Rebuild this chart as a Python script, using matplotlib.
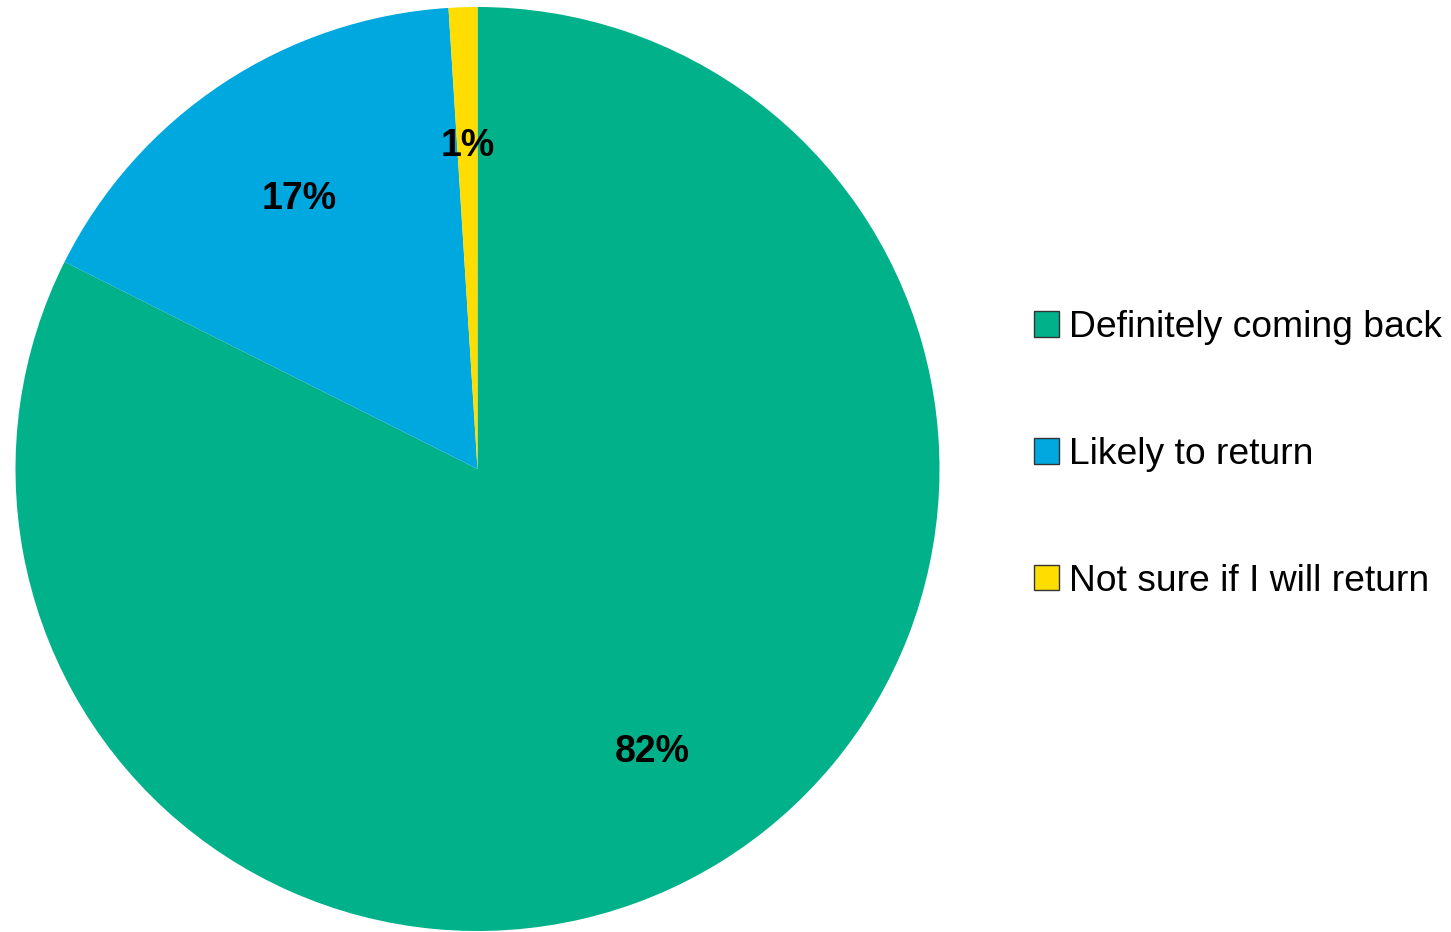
import matplotlib.pyplot as plt
from matplotlib.patches import Patch

plt.rcParams['font.family'] = ['Liberation Sans', 'DejaVu Sans']

labels = ['Definitely coming back', 'Likely to return', 'Not sure if I will return']
shares = [82.4, 16.6, 1.0]
colors = ['#00B18A', '#00A8E0', '#FFDD00']

W, H = 1451, 932
fig = plt.figure(figsize=(W / 100, H / 100), dpi=100)

# pie centre ~(477, 469) px, radius ~462 px
cx, cy, r = 477.5, 469, 462
ax = fig.add_axes([(cx - r) / W, (H - cy - r) / H, 2 * r / W, 2 * r / H])
wedges, texts, autotexts = ax.pie(
    shares, colors=colors, startangle=90, counterclock=False,
    autopct='%.0f%%', pctdistance=0.70, radius=1,
    wedgeprops=dict(linewidth=0),
    textprops=dict(fontsize=27, fontweight='bold', color='black'))
# the big label sits a little further out
x, y = autotexts[0].get_position()
autotexts[0].set_position((x * 0.72 / 0.70, y * 0.72 / 0.70))
ax.set_xlim(-1, 1)
ax.set_ylim(-1, 1)
ax.set_aspect('equal')

handles = [Patch(facecolor=c, edgecolor='#333333', linewidth=1) for c in colors]
fig.legend(handles, labels, loc='upper left',
           bbox_to_anchor=(1034 / W, (H - 310) / H),
           frameon=False, fontsize=26.8, labelspacing=2.47,
           handlelength=0.67, handleheight=0.67, handletextpad=0.27,
           borderpad=0, borderaxespad=0)

fig.savefig('out.png', dpi=100)
